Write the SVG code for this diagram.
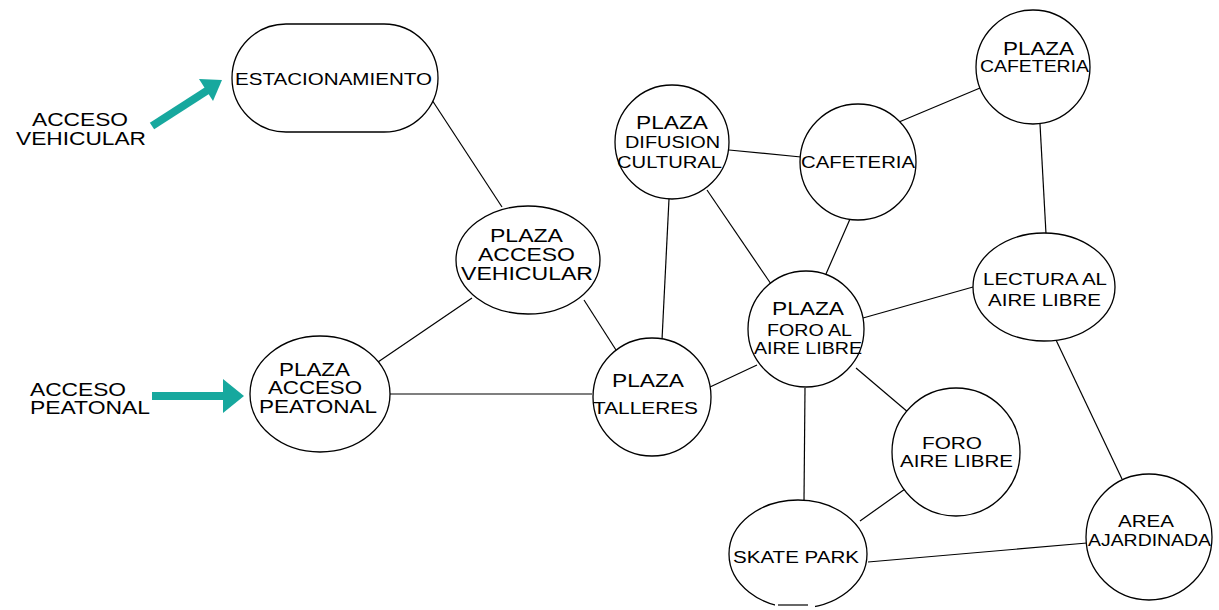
<svg xmlns="http://www.w3.org/2000/svg" width="1219" height="610" viewBox="0 0 1219 610">
<defs>
<style>
.n{fill:#fff;stroke:#000;stroke-width:1.3}
.c line{stroke:#000;stroke-width:1.2}
text{font-family:"Liberation Sans",Arial,sans-serif;fill:#000;text-anchor:middle}
.t16{font-size:16px}
.t17{font-size:17px}
.t18{font-size:18px}
.t19{font-size:19px}
.ar{fill:#17A89E}
</style>
</defs>
<rect width="1219" height="610" fill="#fff"/>
<g class="c" id="connectors">
<line x1="432" y1="100" x2="502" y2="207"/>
<line x1="472" y1="298" x2="378" y2="362"/>
<line x1="584" y1="300" x2="616" y2="350"/>
<line x1="390" y1="394" x2="592" y2="394"/>
<line x1="662" y1="340" x2="669" y2="199"/>
<line x1="710" y1="387" x2="757" y2="365"/>
<line x1="707" y1="190" x2="771" y2="284"/>
<line x1="729" y1="150" x2="801" y2="157"/>
<line x1="850" y1="219" x2="826" y2="274"/>
<line x1="899" y1="122" x2="980" y2="88"/>
<line x1="1040" y1="124" x2="1046" y2="234"/>
<line x1="863" y1="318" x2="973" y2="287"/>
<line x1="856" y1="368" x2="909" y2="413"/>
<line x1="805" y1="388" x2="804" y2="500"/>
<line x1="905" y1="489" x2="860" y2="521"/>
<line x1="868" y1="562" x2="1087" y2="543"/>
<line x1="1056" y1="340" x2="1122" y2="479"/>
</g>
<g id="arrows">
<line x1="152" y1="126" x2="208" y2="90" stroke="#17A89E" stroke-width="8"/>
<polygon class="ar" points="222,80 199,79 213,101"/>
<line x1="152" y1="396" x2="226" y2="396" stroke="#17A89E" stroke-width="8"/>
<polygon class="ar" points="244,396 223,379 223,413"/>
</g>
<g id="label-vehicular">
<text class="t19" x="80" y="126" textLength="96" lengthAdjust="spacingAndGlyphs">ACCESO</text>
<text class="t19" x="81" y="145" textLength="130" lengthAdjust="spacingAndGlyphs">VEHICULAR</text>
</g>
<g id="label-peatonal">
<text class="t18" x="78" y="396" textLength="96" lengthAdjust="spacingAndGlyphs">ACCESO</text>
<text class="t18" x="90" y="414" textLength="120" lengthAdjust="spacingAndGlyphs">PEATONAL</text>
</g>
<g id="estacionamiento">
<rect class="n" x="232" y="24" width="206" height="108" rx="54" ry="54"/>
<text class="t17" x="333.5" y="85" textLength="197" lengthAdjust="spacingAndGlyphs">ESTACIONAMIENTO</text>
</g>
<g id="plaza-acceso-vehicular">
<ellipse class="n" cx="528" cy="260" rx="72" ry="54"/>
<text class="t19" x="526.5" y="242" textLength="73" lengthAdjust="spacingAndGlyphs">PLAZA</text>
<text class="t19" x="526.5" y="261" textLength="97" lengthAdjust="spacingAndGlyphs">ACCESO</text>
<text class="t19" x="527" y="280" textLength="132" lengthAdjust="spacingAndGlyphs">VEHICULAR</text>
</g>
<g id="plaza-acceso-peatonal">
<ellipse class="n" cx="320" cy="394" rx="70" ry="58"/>
<text class="t18" x="314.5" y="376" textLength="71" lengthAdjust="spacingAndGlyphs">PLAZA</text>
<text class="t18" x="315" y="394" textLength="94" lengthAdjust="spacingAndGlyphs">ACCESO</text>
<text class="t18" x="318" y="413" textLength="118" lengthAdjust="spacingAndGlyphs">PEATONAL</text>
</g>
<g id="plaza-talleres">
<circle class="n" cx="652" cy="397" r="59"/>
<text class="t18" x="648" y="387" textLength="72" lengthAdjust="spacingAndGlyphs">PLAZA</text>
<text class="t16" x="645.5" y="414" textLength="105" lengthAdjust="spacingAndGlyphs">TALLERES</text>
</g>
<g id="plaza-difusion-cultural">
<circle class="n" cx="672" cy="142" r="57"/>
<text class="t18" x="672" y="129" textLength="72" lengthAdjust="spacingAndGlyphs">PLAZA</text>
<text class="t16" x="672.5" y="148" textLength="95" lengthAdjust="spacingAndGlyphs">DIFUSION</text>
<text class="t16" x="669.5" y="168" textLength="105" lengthAdjust="spacingAndGlyphs">CULTURAL</text>
</g>
<g id="cafeteria">
<circle class="n" cx="858" cy="162" r="58"/>
<text class="t16" x="858" y="168" textLength="114" lengthAdjust="spacingAndGlyphs">CAFETERIA</text>
</g>
<g id="plaza-cafeteria">
<circle class="n" cx="1033" cy="67" r="57"/>
<text class="t18" x="1038.5" y="55" textLength="71" lengthAdjust="spacingAndGlyphs">PLAZA</text>
<text class="t16" x="1034.5" y="72" textLength="109" lengthAdjust="spacingAndGlyphs">CAFETERIA</text>
</g>
<g id="lectura-aire-libre">
<ellipse class="n" cx="1044" cy="287" rx="71" ry="54"/>
<text class="t16" x="1045" y="285" textLength="124" lengthAdjust="spacingAndGlyphs">LECTURA AL</text>
<text class="t16" x="1044.5" y="306" textLength="113" lengthAdjust="spacingAndGlyphs">AIRE LIBRE</text>
</g>
<g id="plaza-foro-aire-libre">
<circle class="n" cx="806" cy="329" r="58"/>
<text class="t18" x="808" y="315" textLength="72" lengthAdjust="spacingAndGlyphs">PLAZA</text>
<text class="t16" x="809.5" y="336" textLength="85" lengthAdjust="spacingAndGlyphs">FORO AL</text>
<text class="t16" x="808" y="354" textLength="108" lengthAdjust="spacingAndGlyphs">AIRE LIBRE</text>
</g>
<g id="foro-aire-libre">
<circle class="n" cx="956" cy="452" r="64"/>
<text class="t16" x="952" y="449" textLength="60" lengthAdjust="spacingAndGlyphs">FORO</text>
<text class="t16" x="956.5" y="467" textLength="113" lengthAdjust="spacingAndGlyphs">AIRE LIBRE</text>
</g>
<g id="skate-park">
<ellipse class="n" cx="798" cy="554" rx="69" ry="54"/>
<text class="t16" x="796" y="563" textLength="126" lengthAdjust="spacingAndGlyphs">SKATE PARK</text>
<rect x="775" y="600" width="40" height="10" fill="#fff"/>
<line x1="778" y1="605" x2="808" y2="605" stroke="#000" stroke-width="1.2"/>
</g>
<g id="area-ajardinada">
<circle class="n" cx="1149" cy="537" r="63"/>
<text class="t16" x="1146" y="527" textLength="56" lengthAdjust="spacingAndGlyphs">AREA</text>
<text class="t16" x="1149.5" y="546" textLength="123" lengthAdjust="spacingAndGlyphs">AJARDINADA</text>
</g>
</svg>
